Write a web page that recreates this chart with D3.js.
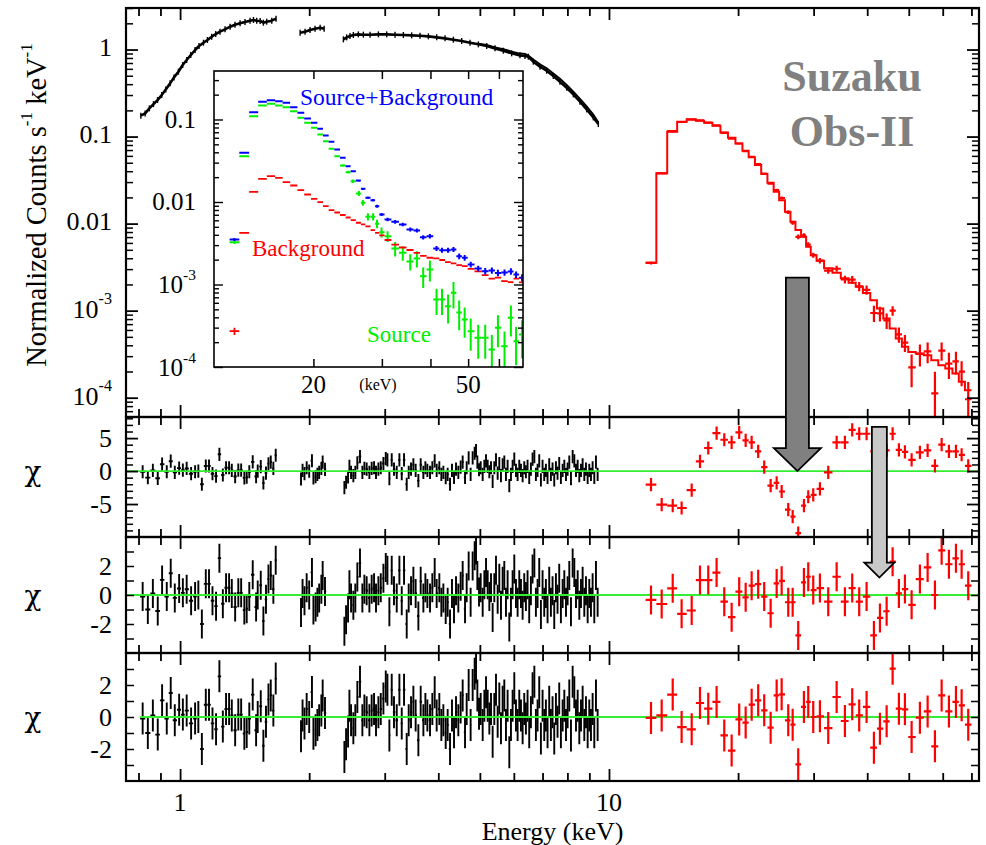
<!DOCTYPE html>
<html>
<head>
<meta charset="utf-8">
<script src="https://cdn.jsdelivr.net/npm/d3@7"></script>
<style>
  body { margin: 0; background: #fff; }
  svg { display: block; }
  text { font-family: "Liberation Serif", "Times New Roman", serif; fill: #000; }
</style>
</head>
<body>
<svg id="chart" width="986" height="845"></svg>
<script>
// ---------------- XIS folded spectrum (keV, counts s^-1 keV^-1) ----------------
const xisSpecE = [0.810, 0.829, 0.848, 0.867, 0.886, 0.906, 0.926, 0.948, 0.968, 0.991, 1.014, 1.036, 1.059, 1.084, 1.107, 1.134, 1.158, 1.185, 1.211, 1.239, 1.273, 1.308, 1.343, 1.380, 1.417, 1.456, 1.483, 1.509, 1.537, 1.564, 1.592, 1.636, 1.674,
  1.905, 1.956, 2.009, 2.064, 2.121, 2.167,
  2.403, 2.446, 2.490, 2.535, 2.604, 2.675, 2.773, 2.900, 3.032, 3.171, 3.316, 3.467, 3.626, 3.793, 3.966, 4.147, 4.337, 4.535, 4.743, 4.960, 5.186, 5.424, 5.672, 5.931, 6.202, 6.371, 6.486, 6.662, 6.905, 7.156, 7.418, 7.687, 7.968, 8.259, 8.559, 8.871, 9.194, 9.444];
const xisSpec = [0.1736, 0.1846, 0.2108, 0.2363, 0.2627, 0.2999, 0.3484, 0.4086, 0.4787, 0.5561, 0.6636, 0.7572, 0.8645, 0.987, 1.097, 1.198, 1.286, 1.404, 1.507, 1.603, 1.705, 1.830, 1.930, 1.999, 2.071, 2.145, 2.183, 2.145, 2.126, 2.034, 2.089, 2.145, 2.262,
  1.561, 1.603, 1.675, 1.736, 1.782, 1.736,
  1.309, 1.380, 1.429, 1.468, 1.494, 1.481, 1.481, 1.494, 1.494, 1.481, 1.468, 1.455, 1.442, 1.417, 1.380, 1.344, 1.297, 1.252, 1.198, 1.147, 1.097, 1.031, 0.970, 0.904, 0.857, 0.842, 0.827, 0.725, 0.635, 0.571, 0.496, 0.427, 0.364, 0.305, 0.2515, 0.2052, 0.166, 0.1392];
// second XIS sensor, separating from the first above ~5 keV
const xisSpec2E = [4.960, 5.186, 5.424, 5.672, 5.931, 6.202, 6.371, 6.486, 6.662, 6.905, 7.156, 7.418, 7.687, 7.968, 8.259, 8.559, 8.871, 9.194, 9.444];
const xisSpec2 = [1.170, 1.130, 1.062, 1.009, 0.949, 0.900, 0.893, 0.852, 0.769, 0.679, 0.611, 0.531, 0.461, 0.393, 0.329, 0.272, 0.222, 0.179, 0.146];

// ---------------- XIS residuals (chi) ----------------
const xisResidE = [0.818, 0.841, 0.864, 0.887, 0.908, 0.931, 0.951, 0.972, 0.995, 1.015, 1.036, 1.061, 1.084, 1.103, 1.124, 1.148, 1.168, 1.190, 1.213, 1.235, 1.258, 1.280, 1.301, 1.320, 1.344, 1.367, 1.388, 1.412, 1.430, 1.450, 1.477, 1.504, 1.517, 1.542, 1.564, 1.586, 1.607, 1.627, 1.650, 1.671,
  1.914, 1.930, 1.950, 1.973, 2.000, 2.030, 2.046, 2.070, 2.090, 2.110, 2.135, 2.150, 2.177,
  2.416, 2.438, 2.464, 2.482, 2.504, 2.535, 2.562, 2.590, 2.627, 2.661,
  2.690, 2.723, 2.763, 2.797, 2.833, 2.863, 2.900, 2.937, 2.979, 3.017,
  3.044, 3.076, 3.115, 3.153, 3.200, 3.246, 3.287, 3.328, 3.376, 3.412,
  3.455, 3.499, 3.542, 3.594, 3.639, 3.692, 3.732, 3.772, 3.826, 3.874,
  3.923, 3.965, 4.022, 4.066, 4.110, 4.162, 4.206, 4.260, 4.305, 4.352,
  4.399, 4.454, 4.510, 4.559, 4.617, 4.658, 4.708, 4.758, 4.810, 4.862,
  4.898, 4.933, 4.977, 5.022, 5.076, 5.122, 5.168, 5.214, 5.261, 5.308,
  5.355, 5.403, 5.452, 5.501, 5.550, 5.600, 5.650, 5.701, 5.752, 5.803,
  5.856, 5.908, 5.961, 6.015, 6.069, 6.123, 6.178, 6.234, 6.290, 6.345,
  6.402, 6.459, 6.517, 6.576, 6.635, 6.699, 6.755, 6.816, 6.877, 6.939,
  7.001, 7.064, 7.127, 7.191, 7.256, 7.321, 7.387, 7.454, 7.521, 7.587,
  7.656, 7.725, 7.798, 7.868, 7.939, 8.009, 8.081, 8.154, 8.228, 8.302,
  8.377, 8.453, 8.527, 8.604, 8.681, 8.759, 8.838, 8.918, 8.996, 9.078,
  9.159, 9.242, 9.325, 9.409];
const xisResid = [-0.1, -1.0, 0.1, -1.1, 1.04, -0.1, 1.5, -0.2, 0.45, 0.15, 0.4, -0.4, -0.1, 0, -2.0, 0.77, 0.77, -0.4, -0.77, 2.54, -0.6, 0.5, 0.5, 0.1, -0.83, 0.15, 0.15, -1.04, -0.94, -0.1, 1.4, -0.83, 0, 0.67, -1.8, -0.3, 1.1, 1.35, 0.4, 2.4,
  -1.2, 0.1, -0.4, 0.5, 0, 1.56, -1.04, -0.83, -0.5, -0.2, 0.4, 1.35, 0.25,
  -2.5, -1.7, -0.9, 0.7, -0.2, -0.7, -0.2, 1.25, 2.2, -0.2,
  0.4, 0.3, -0.2, 0.4, 0.5, -0.2, 0.3, 0.5, 1.15, 1.9,
  1.7, -1.15, 1.7, 0.3, -0.2, 1.7, -0.4, 1.7, -2.0, -0.2,
  0.3, 0.95, 0.1, -1.45, 0.95, -0.2, 0.5, 0.1, -0.2, 0.5,
  1.55, 0.1, 0.5, -0.5, -0.2, -1.0, -0.5, -2.0, 0.1, -0.95,
  0.3, -0.2, 0.6, 1.35, -0.95, 0.5, 2.0, -0.5, 2.0, 2.7,
  3.1, 1.35, 0.2, 0.5, -0.5, 0.7, 1.55, 0.7, -0.1, 0.5,
  -1.55, 0.5, 1.7, -0.3, 1.15, -0.7, 0.95, 1.35, -0.5, 0.7,
  -2.2, -0.5, 0.7, 1.8, 0.1, -0.5, 0.7, 0.1, -0.7, 0.5,
  -0.1, 0.7, -0.95, 0.3, 1.8, 2.2, -0.5, 0.1, 1.55, -1.35,
  0.7, -0.5, 0.1, -0.95, 0.95, -0.5, 0.3, -1.35, 0.5, -0.3,
  1.15, -0.95, 0.1, 0.7, -0.5, 0.3, 1.35, -1.15, 2.2, 1.55,
  0.1, 0.7, -0.7, 0.1, 0.95, -0.5, 0.3, -0.95, 0.1, -0.5,
  0.5, -0.95, 1.35, -0.5];

// ---------------- HXD-PIN spectrum (bin centres, keV) ----------------
const pinE = [12.53, 13.27, 14.08, 14.77, 15.59, 16.30, 17.04, 17.82, 18.57, 19.32, 20.12, 20.83, 21.51, 22.28, 23.01, 23.82, 24.60, 25.27, 26.18, 26.81, 27.62, 28.48, 29.15, 29.94, 31.03, 32.45, 33.95, 35.49, 36.91, 38.32, 39.87, 41.47, 42.83, 44.40, 45.85, 47.42, 48.98, 50.77, 53.08, 55.33, 57.54, 59.65, 62.03, 64.42, 66.41, 68.81];
const pinModel = [3.54e-3, 0.0378, 0.1136, 0.148, 0.1576, 0.152, 0.1441, 0.1331, 0.1117, 0.0969, 0.0835, 0.0687, 0.0577, 0.0470, 0.0371, 0.0294, 0.0232, 0.0186, 0.01367, 0.01049, 8.42e-3, 7.05e-3, 5.41e-3, 4.34e-3, 3.74e-3, 3.06e-3, 2.72e-3, 2.35e-3, 2.09e-3, 1.88e-3, 1.60e-3, 1.32e-3, 1.06e-3, 8.14e-4, 6.24e-4, 4.79e-4, 3.84e-4, 3.36e-4, 3.22e-4, 3.08e-4, 2.70e-4, 2.36e-4, 2.17e-4, 1.90e-4, 1.52e-4, 1.22e-4];
const pinRate = [3.53e-3, 0.0378, 0.1152, 0.1471, 0.1564, 0.1533, 0.1448, 0.1344, 0.1104, 0.0949, 0.0833, 0.0682, 0.0586, 0.0482, 0.0375, 0.0288, 0.0243, 0.0197, 0.01354, 0.01024, 7.05e-3, 7.32e-3, 5.74e-3, 4.34e-3, 3.75e-3, 2.89e-3, 3.03e-3, 2.29e-3, 2.27e-3, 1.90e-3, 1.73e-3, 9.4e-4, 9.3e-4, 7.72e-4, 1.00e-3, 5.34e-4, 4.30e-4, 2.23e-4, 3.18e-4, 3.40e-4, 1.12e-4, 3.48e-4, 2.46e-4, 2.61e-4, 1.99e-4, 9.6e-5];
const pinErr = [1.4e-4, 3.8e-4, 1.1e-3, 1.5e-3, 1.6e-3, 1.5e-3, 1.4e-3, 1.3e-3, 1.1e-3, 9.7e-4, 1.25e-3, 1.4e-3, 1.15e-3, 1.2e-3, 9.3e-4, 8.8e-4, 8.1e-4, 7.4e-4, 6.2e-4, 5.2e-4, 4.6e-4, 4.2e-4, 3.5e-4, 3.0e-4, 2.8e-4, 2.4e-4, 2.4e-4, 2.35e-4, 2.3e-4, 2.3e-4, 2.1e-4, 2.0e-4, 1.8e-4, 1.55e-4, 1.25e-4, 1.05e-4, 9.6e-5, 9.1e-5, 9.0e-5, 9.2e-5, 8.6e-5, 8.3e-5, 8.2e-5, 7.6e-5, 6.4e-5, 5.5e-5];
// residuals: continuum only, one cyclotron line, two cyclotron lines
const pinResid1 = [-2.07, -5.1, -5.25, -5.6, -2.9, 1.46, 3.5, 5.76, 4.75, 4.34, 5.86, 4.65, 4.34, 2.98, 0.6, -2.2, -1.8, -3.1, -5.86, -6.9, -9.4, -5.25, -3.9, -3.6, -2.7, -0.2, 4.34, 4.34, 6.26, 5.66, 5.66, 2.98, 4.5, 3.13, 5.66, 3.2, 2.9, 1.7, 2.83, 3.13, 0.8, 4.0, 2.98, 2.98, 2.47, 0.8];
const pinResid2 = [-0.34, -0.62, 0.46, -1.3, -1.07, 1.03, 1.03, 1.55, -0.46, -1.53, 0.23, -0.16, 0.64, 0.75, -0.11, -1.26, 0.8, 0.98, -0.5, -0.5, -2.79, 0.87, 1.26, 0.34, 0.48, -0.46, 1.26, -0.46, 0.48, -0.46, -0.11, -2.79, -1.58, -1.12, 2.3, 0.11, 0.41, -0.68, 1.1, 1.9, 0, 3.08, 2.12, 2.53, 2.12, 0.64];
const pinResid3 = [-0.06, 0.1, 1.4, -0.63, -0.77, 0.875, 0.52, 0.94, -1.15, -2.1, -0.15, -0.35, 0.77, 1.04, 0.42, -0.67, 1.35, 1.42, -0.21, -0.48, -2.96, 0.63, 0.94, 0, 0.04, -0.69, 1.25, -0.25, 0.79, 0.1, 0.63, -1.92, -0.73, -0.27, 3.02, 0.52, 0.48, -1.25, -0.04, 0.35, -1.83, 1.35, 0.35, 0.94, 0.73, -0.48];

// ---------------- inset: PIN source+background, background, source ----------------
const insetTotal = [3.51e-3, 0.0395, 0.1226, 0.1639, 0.1714, 0.1666, 0.1594, 0.1409, 0.1206, 0.1028, 0.0912, 0.0772, 0.0640, 0.0537, 0.0433, 0.0343, 0.0272, 0.0236, 0.0182, 0.01445, 0.01124, 0.01051, 8.89e-3, 7.05e-3, 6.14e-3, 5.75e-3, 5.34e-3, 4.64e-3, 4.51e-3, 3.74e-3, 3.85e-3, 2.73e-3, 2.60e-3, 2.60e-3, 2.66e-3, 2.20e-3, 2.11e-3, 1.75e-3, 1.56e-3, 1.45e-3, 1.48e-3, 1.38e-3, 1.40e-3, 1.44e-3, 1.32e-3, 1.21e-3];
const insetTotalErr = [1.4e-4, 5.9e-4, 1.2e-3, 1.6e-3, 1.7e-3, 1.7e-3, 1.6e-3, 1.4e-3, 1.2e-3, 1.0e-3, 1.1e-3, 1.1e-3, 9.6e-4, 9.1e-4, 8.7e-4, 7.5e-4, 6.8e-4, 6.6e-4, 5.5e-4, 4.3e-4, 3.9e-4, 3.7e-4, 3.6e-4, 2.8e-4, 2.8e-4, 2.9e-4, 2.7e-4, 2.6e-4, 2.5e-4, 2.2e-4, 2.3e-4, 1.9e-4, 1.8e-4, 1.8e-4, 1.9e-4, 1.8e-4, 1.7e-4, 1.4e-4, 1.25e-4, 1.3e-4, 1.3e-4, 1.25e-4, 1.25e-4, 1.3e-4, 1.2e-4, 1.2e-4];
const insetBkg = [2.72e-4, 4.23e-3, 0.01329, 0.0191, 0.02055, 0.01965, 0.01738, 0.01585, 0.0139, 0.01233, 0.01093, 9.94e-3, 8.89e-3, 7.95e-3, 7.46e-3, 6.96e-3, 6.49e-3, 6.02e-3, 5.60e-3, 5.34e-3, 5.05e-3, 4.55e-3, 4.23e-3, 3.93e-3, 3.46e-3, 3.05e-3, 2.81e-3, 2.62e-3, 2.42e-3, 2.22e-3, 2.11e-3, 2.07e-3, 1.98e-3, 1.87e-3, 1.80e-3, 1.72e-3, 1.67e-3, 1.55e-3, 1.44e-3, 1.30e-3, 1.18e-3, 1.21e-3, 1.10e-3, 1.07e-3, 1.18e-3, 1.06e-3];
const insetBkgErr = [2.7e-5, 8.5e-5, 1.3e-4, 1.9e-4, 2.1e-4, 2.0e-4, 1.7e-4, 1.6e-4, 1.4e-4, 1.2e-4, 1.3e-4, 1.2e-4, 1.1e-4, 9.5e-5, 9.0e-5, 8.4e-5, 7.8e-5, 7.2e-5, 6.7e-5, 6.4e-5, 7.6e-5, 6.8e-5, 6.3e-5, 5.9e-5, 5.2e-5, 4.6e-5, 4.2e-5, 3.9e-5, 3.6e-5, 3.3e-5, 4.2e-5, 4.1e-5, 4.0e-5, 3.7e-5, 3.6e-5, 3.4e-5, 3.3e-5, 3.1e-5, 2.9e-5, 2.6e-5, 2.4e-5, 2.4e-5, 2.2e-5, 2.1e-5, 2.4e-5, 2.1e-5];
const insetSrc = [3.26e-3, 0.0359, 0.1096, 0.1478, 0.155, 0.1478, 0.1409, 0.126, 0.1049, 0.0912, 0.0793, 0.0658, 0.0546, 0.0441, 0.0359, 0.0277, 0.0230, 0.01787, 0.01268, 9.78e-3, 6.62e-3, 6.62e-3, 5.44e-3, 4.31e-3, 3.85e-3, 2.73e-3, 2.42e-3, 1.90e-3, 2.07e-3, 1.26e-3, 1.52e-3, 6.58e-4, 6.58e-4, 5.46e-4, 7.93e-4, 4.58e-4, 3.77e-4, 2.72e-4, 2.26e-4, 2.26e-4, 1.63e-4, 2.99e-4, 1.79e-4, 3.95e-4, 2.05e-4, 2.48e-4];
const insetSrcErr = [1.6e-4, 7.2e-4, 1.1e-3, 1.5e-3, 1.55e-3, 1.5e-3, 1.4e-3, 1.5e-3, 1.4e-3, 1.4e-3, 1.35e-3, 1.3e-3, 1.2e-3, 1.1e-3, 1.08e-3, 9.7e-4, 9.2e-4, 8.9e-4, 8.9e-4, 7.8e-4, 6.6e-4, 6.6e-4, 6.5e-4, 6.0e-4, 5.8e-4, 5.5e-4, 4.8e-4, 4.2e-4, 4.6e-4, 3.5e-4, 4.3e-4, 2.3e-4, 2.3e-4, 2.1e-4, 2.8e-4, 1.8e-4, 1.5e-4, 1.15e-4, 1.0e-4, 1.0e-4, 8.2e-5, 1.25e-4, 9.0e-5, 1.6e-4, 1.0e-4, 1.2e-4];

// cyclotron resonance energies marked by arrows (keV)
const cyclotronE = [27.5, 42.7];

// ---------------- ticks and labels ----------------
const xMajorTicks = [1, 10];
const xMinorTicks = [0.8, 0.9, 2, 3, 4, 5, 6, 7, 8, 9, 20, 30, 40, 50, 60, 70];
const xTickLabels = [1, 10];
const topTickLabels = [1, 0.1, 0.01, 1e-3, 1e-4];
const r1TickLabels = [5, 0, -5];
const r23TickLabels = [2, 0, -2];
const insetXTicks = [20, 30, 40, 50, 60];
const insetXLabels = [20, 50];
const insetYLabels = [0.1, 0.01, 1e-3, 1e-4];

// ---------------- layout ----------------
const svg = d3.select("#chart");
const defs = svg.append("defs");
const L = 126, R = 979;
const panel = {
  top: [8, 417],
  r1: [417, 537],
  r2: [537, 653],
  r3: [653, 781]
};
const RED = "#ff0000", GREEN = "#00ee00", BLUE = "#0000ff", ZERO = "#33ee33";

const x = d3.scaleLog().domain([0.748, 72.9]).range([L, R]);
const yTop = d3.scaleLog().domain([6e-5, 3.0]).range([panel.top[1], panel.top[0]]);
const yR1 = d3.scaleLinear().domain([-10, 8.2]).range([panel.r1[1], panel.r1[0]]);
const yR2 = d3.scaleLinear().domain([-4, 4]).range([panel.r2[1], panel.r2[0]]);
const yR3 = d3.scaleLinear().domain([-4, 4]).range([panel.r3[1], panel.r3[0]]);

const inset = { x0: 214, x1: 523, y0: 71, y1: 367 };
const xi = d3.scaleLog().domain([11.1, 69.2]).range([inset.x0, inset.x1]);
const yi = d3.scaleLog().domain([1e-4, 0.387]).range([inset.y1, inset.y0]);

function clip(id, x0, y0, x1, y1) {
  defs.append("clipPath").attr("id", id).append("rect")
    .attr("x", x0).attr("y", y0).attr("width", x1 - x0).attr("height", y1 - y0);
  return `url(#${id})`;
}

// bin edges from geometric midpoints, kept inside contiguous runs
function logEdges(E, gap) {
  return E.map((e, i) => {
    const prevOk = i > 0 && e / E[i - 1] < gap;
    const nextOk = i < E.length - 1 && E[i + 1] / e < gap;
    let lo = prevOk ? Math.sqrt(e * E[i - 1]) : null;
    let hi = nextOk ? Math.sqrt(e * E[i + 1]) : null;
    if (lo === null && hi !== null) lo = e * e / hi;
    if (hi === null && lo !== null) hi = e * e / lo;
    if (lo === null) { lo = e; hi = e; }
    return [lo, hi];
  });
}

function crosses(g, E, edges, V, Err, xs, ys, color, sw, floor) {
  const pts = E.map((e, i) => ({ e, lo: edges[i][0], hi: edges[i][1], v: V[i],
    a: Math.max(V[i] - Err[i], floor), b: V[i] + Err[i] }));
  g.selectAll(null).data(pts).join("path")
    .attr("fill", "none").attr("stroke", color).attr("stroke-width", sw)
    .attr("d", d => `M${xs(d.lo)},${ys(d.v)}H${xs(d.hi)}M${xs(d.e)},${ys(d.a)}V${ys(d.b)}`);
}

function splitRuns(E, V, gap) {
  const runs = []; let cur = [];
  E.forEach((e, i) => {
    if (i > 0 && e / E[i - 1] > gap) { runs.push(cur); cur = []; }
    cur.push([e, V[i]]);
  });
  runs.push(cur);
  return runs;
}

// ---------------- top panel: spectra ----------------
const gTop = svg.append("g").attr("clip-path", clip("cTop", L, panel.top[0], R, panel.top[1]));
const specLine = d3.line().x(d => x(d[0])).y(d => yTop(d[1]));
splitRuns(xisSpecE, xisSpec, 1.07).forEach(run => {
  gTop.append("path").attr("d", specLine(run)).attr("fill", "none")
    .attr("stroke", "#000").attr("stroke-width", 2.6).attr("stroke-linejoin", "round");
});
gTop.append("path").attr("d", specLine(xisSpec2E.map((e, i) => [e, xisSpec2[i]])))
  .attr("fill", "none").attr("stroke", "#000").attr("stroke-width", 1.8);
// short data ticks along the XIS spectrum
gTop.selectAll(null).data(xisSpecE.map((e, i) => [e, xisSpec[i]])).join("line")
  .attr("x1", d => x(d[0])).attr("x2", d => x(d[0]))
  .attr("y1", d => yTop(d[1]) - 3).attr("y2", d => yTop(d[1]) + 3)
  .attr("stroke", "#000").attr("stroke-width", 1.4);

const pinEdges = logEdges(pinE, Infinity);
const stepPts = pinE.map((e, i) => [pinEdges[i][0], pinModel[i]]);
stepPts.push([pinEdges[pinE.length - 1][1], pinModel[pinE.length - 1]]);
gTop.append("path")
  .attr("d", d3.line().curve(d3.curveStepAfter).x(d => x(d[0])).y(d => yTop(d[1]))(stepPts))
  .attr("fill", "none").attr("stroke", RED).attr("stroke-width", 2);
crosses(gTop, pinE, pinEdges, pinRate, pinErr, x, yTop, RED, 2.2, 1e-6);

// ---------------- residual panels ----------------
const xisEdges = logEdges(xisResidE, 1.06);
const ones = xisResidE.map(() => 1);
const pinOnes = pinE.map(() => 1);
const resid = [
  { key: "r1", y: yR1, pin: pinResid1 },
  { key: "r2", y: yR2, pin: pinResid2 },
  { key: "r3", y: yR3, pin: pinResid3 }
];
resid.forEach(p => {
  const [y0, y1] = panel[p.key];
  const g = svg.append("g").attr("clip-path", clip("c" + p.key, L, y0, R, y1));
  crosses(g, xisResidE, xisEdges, xisResid, ones, x, p.y, "#000", 1.9, -100);
  const x0 = p.key === "r3" ? x(xisEdges[0][0]) : L;
  g.append("line").attr("x1", x0).attr("x2", R).attr("y1", p.y(0)).attr("y2", p.y(0))
    .attr("stroke", ZERO).attr("stroke-width", 1.8);
  crosses(g, pinE, pinEdges, p.pin, pinOnes, x, p.y, RED, 2.2, -100);
});

// ---------------- frames and ticks ----------------
function ticksX(yPos, isTop, values, len) {
  const ax = (isTop ? d3.axisTop(x) : d3.axisBottom(x))
    .tickValues(values).tickSize(-len).tickSizeOuter(0).tickFormat("");
  const g = svg.append("g").attr("transform", `translate(0,${yPos})`).call(ax);
  g.select(".domain").remove();
  g.selectAll(".tick line").attr("stroke", "#000").attr("stroke-width", 1.8);
}
function ticksY(scale, values, len, xs, sw) {
  [[d3.axisLeft, xs[0]], [d3.axisRight, xs[1]]].forEach(([f, xp]) => {
    const g = svg.append("g").attr("transform", `translate(${xp},0)`)
      .call(f(scale).tickValues(values).tickSize(-len).tickSizeOuter(0).tickFormat(""));
    g.select(".domain").remove();
    g.selectAll(".tick line").attr("stroke", "#000").attr("stroke-width", sw);
  });
}
const isDecade = v => Math.abs(Math.log10(v) - Math.round(Math.log10(v))) < 1e-9;

Object.values(panel).forEach(([y0, y1]) => {
  ticksX(y0, true, xMajorTicks, 12);
  ticksX(y0, true, xMinorTicks, 8);
  ticksX(y1, false, xMajorTicks, 12);
  ticksX(y1, false, xMinorTicks, 8);
});
const topTicks = yTop.ticks();
ticksY(yTop, topTicks.filter(isDecade), 12, [L, R], 1.8);
ticksY(yTop, topTicks.filter(v => !isDecade(v)), 7, [L, R], 1.5);
ticksY(yR1, r1TickLabels, 12, [L, R], 1.8);
ticksY(yR1, d3.range(-9, 9).filter(v => !r1TickLabels.includes(v)), 7, [L, R], 1.5);
ticksY(yR2, d3.range(-3, 4), 8, [L, R], 1.5);
ticksY(yR3, d3.range(-3, 4), 8, [L, R], 1.5);

Object.values(panel).forEach(([y0, y1]) => {
  svg.append("rect").attr("x", L).attr("y", y0).attr("width", R - L).attr("height", y1 - y0)
    .attr("fill", "none").attr("stroke", "#000").attr("stroke-width", 2.2);
});

// ---------------- inset ----------------
const gIn = svg.append("g");
gIn.append("rect").attr("x", inset.x0).attr("y", inset.y0)
  .attr("width", inset.x1 - inset.x0).attr("height", inset.y1 - inset.y0).attr("fill", "#fff");
const gInData = gIn.append("g").attr("clip-path", clip("cInset", inset.x0, inset.y0, inset.x1, inset.y1));
crosses(gInData, pinE, pinEdges, insetSrc, insetSrcErr, xi, yi, GREEN, 2, 1e-6);
crosses(gInData, pinE, pinEdges, insetBkg, insetBkgErr, xi, yi, RED, 1.8, 1e-6);
crosses(gInData, pinE, pinEdges, insetTotal, insetTotalErr, xi, yi, BLUE, 2, 1e-6);

function insetTicksX(yPos, isTop) {
  const g = gIn.append("g").attr("transform", `translate(0,${yPos})`)
    .call((isTop ? d3.axisTop(xi) : d3.axisBottom(xi)).tickValues(insetXTicks).tickSize(-8).tickSizeOuter(0).tickFormat(""));
  g.select(".domain").remove();
  g.selectAll(".tick line").attr("stroke", "#000").attr("stroke-width", 1.5);
}
insetTicksX(inset.y1, false);
insetTicksX(inset.y0, true);
const inTicks = yi.ticks();
[[d3.axisLeft, inset.x0], [d3.axisRight, inset.x1]].forEach(([f, xp]) => {
  [[inTicks.filter(isDecade), 9], [inTicks.filter(v => !isDecade(v)), 5]].forEach(([vals, len]) => {
    const g = gIn.append("g").attr("transform", `translate(${xp},0)`)
      .call(f(yi).tickValues(vals).tickSize(-len).tickSizeOuter(0).tickFormat(""));
    g.select(".domain").remove();
    g.selectAll(".tick line").attr("stroke", "#000").attr("stroke-width", 1.4);
  });
});
gIn.append("rect").attr("x", inset.x0).attr("y", inset.y0)
  .attr("width", inset.x1 - inset.x0).attr("height", inset.y1 - inset.y0)
  .attr("fill", "none").attr("stroke", "#000").attr("stroke-width", 1.6);

// ---------------- text ----------------
function powLabel(g, v, xPos, yPos, size, anchor) {
  const t = g.append("text").attr("x", xPos).attr("y", yPos).attr("text-anchor", anchor)
    .attr("font-size", size).attr("dominant-baseline", "central");
  if (v >= 0.01) { t.text(String(v)); return; }
  const exp = Math.round(Math.log10(v));
  t.append("tspan").text("10");
  t.append("tspan").attr("dy", -size * 0.4).attr("font-size", size * 0.62).text(String(exp));
}
topTickLabels.forEach(v => powLabel(svg, v, 112, yTop(v) - 2, 26, "end"));
r1TickLabels.forEach(v => svg.append("text").attr("x", 112).attr("y", yR1(v)).attr("text-anchor", "end")
  .attr("dominant-baseline", "central").attr("font-size", 26).text(String(v)));
[yR2, yR3].forEach(ys => r23TickLabels.forEach(v => svg.append("text").attr("x", 112).attr("y", ys(v))
  .attr("text-anchor", "end").attr("dominant-baseline", "central").attr("font-size", 26).text(String(v))));
xTickLabels.forEach(v => svg.append("text").attr("x", x(v)).attr("y", 802).attr("text-anchor", "middle")
  .attr("dominant-baseline", "central").attr("font-size", 26).text(String(v)));
svg.append("text").attr("x", (L + R) / 2).attr("y", 831).attr("text-anchor", "middle")
  .attr("dominant-baseline", "central").attr("font-size", 26).text("Energy (keV)");

const yTitle = svg.append("text").attr("transform", "translate(36,205) rotate(-90)")
  .attr("text-anchor", "middle").attr("dominant-baseline", "central").attr("font-size", 28.5);
yTitle.append("tspan").text("Normalized Counts s");
yTitle.append("tspan").attr("dy", -10).attr("font-size", 17).text("-1");
yTitle.append("tspan").attr("dy", 10).text(" keV");
yTitle.append("tspan").attr("dy", -10).attr("font-size", 17).text("-1");

[yR1, yR2, yR3].forEach(ys => svg.append("text").attr("x", 33).attr("y", ys(0)).attr("text-anchor", "middle")
  .attr("dominant-baseline", "central").attr("font-size", 28).style("font-family", "'DejaVu Serif', serif").text("χ"));

insetYLabels.forEach(v => powLabel(gIn, v, 196, yi(v), 25, "end"));
insetXLabels.forEach(v => gIn.append("text").attr("x", xi(v)).attr("y", 384).attr("text-anchor", "middle")
  .attr("dominant-baseline", "central").attr("font-size", 25).text(String(v)));
gIn.append("text").attr("x", 378).attr("y", 384).attr("text-anchor", "middle")
  .attr("dominant-baseline", "central").attr("font-size", 16).text("(keV)");
gIn.append("text").attr("x", 300).attr("y", 97).attr("dominant-baseline", "central")
  .attr("font-size", 23.5).style("fill", BLUE).text("Source+Background");
gIn.append("text").attr("x", 252).attr("y", 248).attr("dominant-baseline", "central")
  .attr("font-size", 23).style("fill", RED).text("Background");
gIn.append("text").attr("x", 367).attr("y", 334).attr("dominant-baseline", "central")
  .attr("font-size", 23).style("fill", GREEN).text("Source");

svg.append("text").attr("x", 852).attr("y", 76).attr("text-anchor", "middle").attr("dominant-baseline", "central")
  .attr("font-size", 44).attr("font-weight", "bold").style("fill", "#808080").text("Suzaku");
svg.append("text").attr("x", 852).attr("y", 131).attr("text-anchor", "middle").attr("dominant-baseline", "central")
  .attr("font-size", 44).attr("font-weight", "bold").style("fill", "#808080").text("Obs-II");

// ---------------- arrows marking the cyclotron features ----------------
function arrow(E, yFrom, yTo, shaftW, headW, headH, fill) {
  const cx = x(E);
  const yH = yTo - headH;
  const pts = [[cx - shaftW / 2, yFrom], [cx + shaftW / 2, yFrom], [cx + shaftW / 2, yH], [cx + headW / 2, yH],
    [cx, yTo], [cx - headW / 2, yH], [cx - shaftW / 2, yH]];
  svg.append("path").attr("d", "M" + pts.map(p => p.join(",")).join("L") + "Z")
    .attr("fill", fill).attr("stroke", "#000").attr("stroke-width", 1.8).attr("stroke-linejoin", "miter");
}
arrow(cyclotronE[0], yTop(2.4e-3), yR1(0), 23, 47, 23, "#808080");
arrow(cyclotronE[1], yR1(6.7), yR2(1.2), 15, 30, 15, "#c8c8c8");
</script>
</body>
</html>
